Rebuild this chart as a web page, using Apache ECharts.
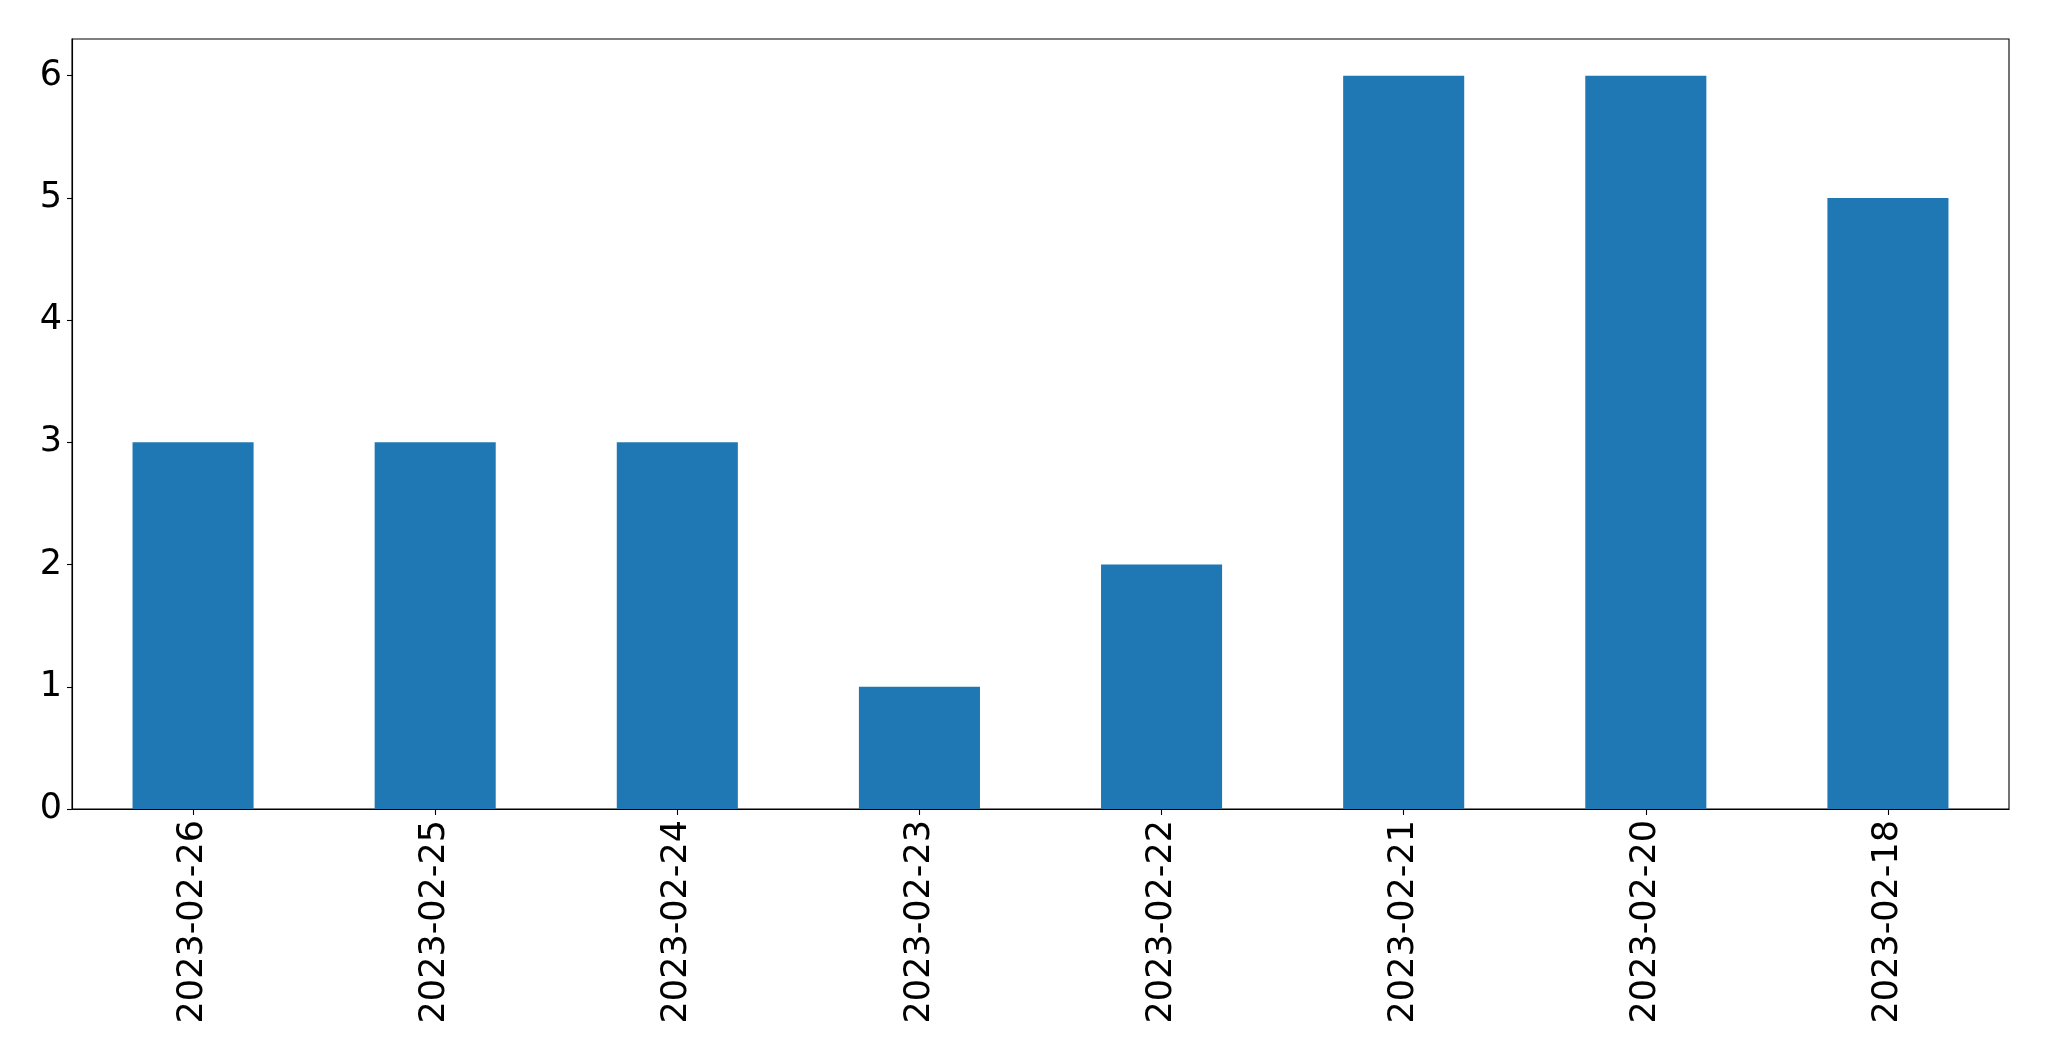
<!DOCTYPE html>
<html><head><meta charset="utf-8">
<script src="https://cdn.jsdelivr.net/npm/echarts@6/dist/echarts.min.js"></script>
<style>html,body{margin:0;padding:0;background:#fff}#c{width:2049px;height:1061px}</style>
</head><body><div id="c"></div>
<script>
const categories = ['2023-02-26','2023-02-25','2023-02-24','2023-02-23','2023-02-22','2023-02-21','2023-02-20','2023-02-18'];
const values = [3, 3, 3, 1, 2, 6, 6, 5];
const yTicks = [0, 1, 2, 3, 4, 5, 6];

const chart = echarts.init(document.getElementById('c'), null, {renderer: 'canvas'});
const font = 'DejaVu Sans';
chart.setOption({
  animation: false,
  grid: {left: 72, right: 40, top: 39, bottom: 252, containLabel: false,
         show: true, borderColor: '#000', borderWidth: 1.1, backgroundColor: '#fff'},
  xAxis: {
    type: 'category', data: categories,
    axisLine: {show: true, lineStyle: {color: '#000', width: 1.1}},
    axisTick: {show: true, alignWithLabel: true, length: 6, lineStyle: {color: '#000', width: 1.1}},
    axisLabel: {interval: 0, rotate: 90, margin: 11, fontSize: 35, fontFamily: font, color: '#000'},
    splitLine: {show: false}
  },
  yAxis: {
    type: 'value', min: 0, max: 6.3,
    axisLine: {show: true, lineStyle: {color: '#000', width: 1.1}},
    axisTick: {show: true, length: 5, customValues: yTicks, lineStyle: {color: '#000', width: 1.1}},
    axisLabel: {customValues: yTicks, margin: 10, fontSize: 35, fontFamily: font, color: '#000'},
    splitLine: {show: false}
  },
  series: [{
    type: 'bar', data: values, barWidth: '50%',
    itemStyle: {color: '#1f77b4'}
  }]
});
</script></body></html>
